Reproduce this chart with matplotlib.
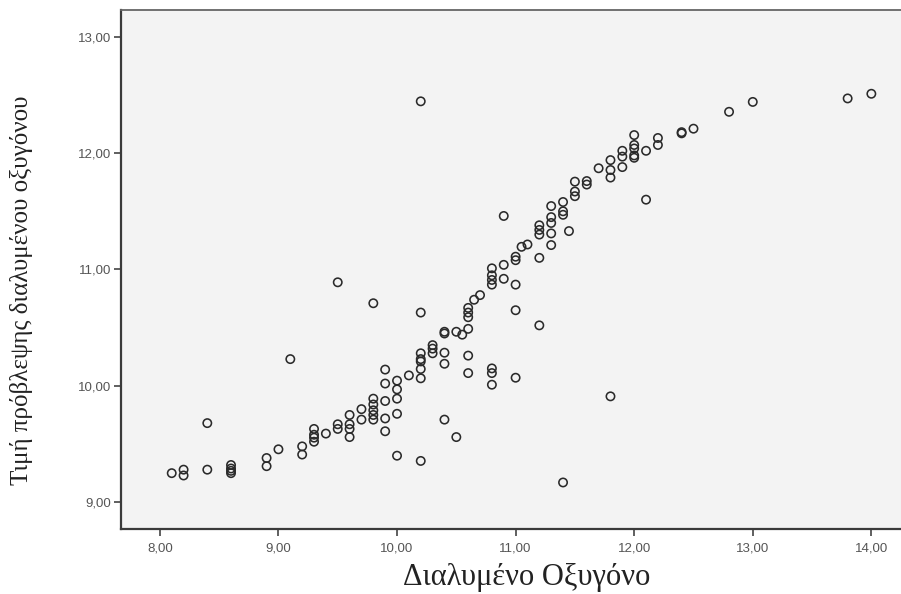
import matplotlib
matplotlib.use("Agg")
import matplotlib.pyplot as plt
from matplotlib.ticker import FuncFormatter

# Observed dissolved oxygen (x) and predicted value (y)
oxygen = [
    8.1, 8.2, 8.2, 8.4, 8.4, 8.6, 8.6, 8.6, 8.6, 8.9, 8.9, 9.0, 9.1, 9.2, 9.2,
    9.3, 9.3, 9.3, 9.3, 9.4, 9.5, 9.5, 9.5, 9.6, 9.6, 9.6, 9.6, 9.7, 9.7,
    9.8, 9.8, 9.8, 9.8, 9.8, 9.8, 9.9, 9.9, 9.9, 9.9, 9.9,
    10.0, 10.0, 10.0, 10.0, 10.0, 10.1,
    10.2, 10.2, 10.2, 10.2, 10.2, 10.2, 10.2, 10.2,
    10.3, 10.3, 10.3, 10.4, 10.4, 10.4, 10.4, 10.4, 10.5, 10.5, 10.55,
    10.6, 10.6, 10.6, 10.6, 10.6, 10.6, 10.65, 10.7,
    10.8, 10.8, 10.8, 10.8, 10.8, 10.8, 10.8, 10.9, 10.9, 10.9,
    11.0, 11.0, 11.0, 11.0, 11.0, 11.05, 11.1,
    11.2, 11.2, 11.2, 11.2, 11.2, 11.3, 11.3, 11.3, 11.3, 11.3,
    11.4, 11.4, 11.4, 11.4, 11.45, 11.5, 11.5, 11.5, 11.6, 11.6, 11.7,
    11.8, 11.8, 11.8, 11.8, 11.9, 11.9, 11.9,
    12.0, 12.0, 12.0, 12.0, 12.0, 12.1, 12.1, 12.2, 12.2,
    12.4, 12.4, 12.5, 12.8, 13.0, 13.8, 14.0,
]
predicted = [
    9.25, 9.28, 9.23, 9.28, 9.68, 9.32, 9.29, 9.27, 9.25, 9.38, 9.31, 9.455, 10.23, 9.48, 9.41,
    9.63, 9.58, 9.555, 9.52, 9.59, 9.67, 9.63, 10.89, 9.75, 9.67, 9.63, 9.56, 9.80, 9.71,
    9.89, 9.84, 9.79, 9.75, 9.71, 10.71, 10.14, 10.02, 9.87, 9.72, 9.61,
    10.045, 9.97, 9.89, 9.76, 9.40, 10.09,
    12.445, 10.63, 10.28, 10.23, 10.21, 10.145, 10.065, 9.355,
    10.35, 10.32, 10.28, 10.465, 10.45, 10.285, 10.19, 9.71, 10.465, 9.56, 10.44,
    10.67, 10.63, 10.59, 10.49, 10.26, 10.11, 10.74, 10.78,
    11.01, 10.95, 10.91, 10.87, 10.15, 10.11, 10.01, 11.46, 11.04, 10.92,
    11.11, 11.08, 10.87, 10.65, 10.07, 11.195, 11.215,
    11.38, 11.34, 11.30, 11.10, 10.52, 11.545, 11.45, 11.40, 11.31, 11.21,
    11.58, 11.50, 11.47, 9.17, 11.33, 11.755, 11.67, 11.63, 11.76, 11.73, 11.87,
    11.94, 11.855, 11.79, 9.91, 12.02, 11.97, 11.88,
    12.155, 12.07, 12.04, 11.98, 11.96, 12.02, 11.60, 12.13, 12.07,
    12.18, 12.17, 12.21, 12.355, 12.44, 12.47, 12.51,
]

x_ticks = [8, 9, 10, 11, 12, 13, 14]
y_ticks = [9, 10, 11, 12, 13]
x_label = "Διαλυμένο Οξυγόνο"
y_label = "Τιμή πρόβλεψης διαλυμένου οξυγόνου"

fig = plt.figure(figsize=(9.01, 5.94), dpi=100)
fig.patch.set_facecolor("white")
ax = fig.add_axes([0.134, 0.1094, 0.866, 0.8738])
ax.set_facecolor("#f3f3f3")

ax.scatter(oxygen, predicted, s=36, facecolors="none", edgecolors="#2a2a2a",
           linewidths=1.15, zorder=3)

ax.set_xlim(7.67, 14.25)
ax.set_ylim(8.77, 13.23)
ax.set_xticks(x_ticks)
ax.set_yticks(y_ticks)
fmt = FuncFormatter(lambda v, p: f"{v:.2f}".replace(".", ","))
ax.xaxis.set_major_formatter(fmt)
ax.yaxis.set_major_formatter(fmt)

ax.tick_params(axis="both", direction="out", length=5, width=1.2,
               color="#444444", labelsize=9.5, labelcolor="#555555")
ax.tick_params(axis="x", pad=5)
ax.tick_params(axis="y", pad=2)
for lab in ax.get_xticklabels() + ax.get_yticklabels():
    lab.set_family("Liberation Sans")

for side in ["left", "bottom"]:
    ax.spines[side].set_color("#3a3a3a")
    ax.spines[side].set_linewidth(1.6)
ax.spines["top"].set_color("#666666")
ax.spines["top"].set_linewidth(1.3)
ax.spines["right"].set_visible(False)

fig.text(527 / 901, 1 - 585 / 594, x_label, ha="center", va="baseline",
         family="Liberation Serif", fontsize=22, color="#222222")
fig.text(22 / 901, 1 - 290 / 594, y_label, ha="center", va="center",
         rotation=90, family="Liberation Serif", fontsize=18, color="#222222")

fig.savefig("out.png", dpi=100)
